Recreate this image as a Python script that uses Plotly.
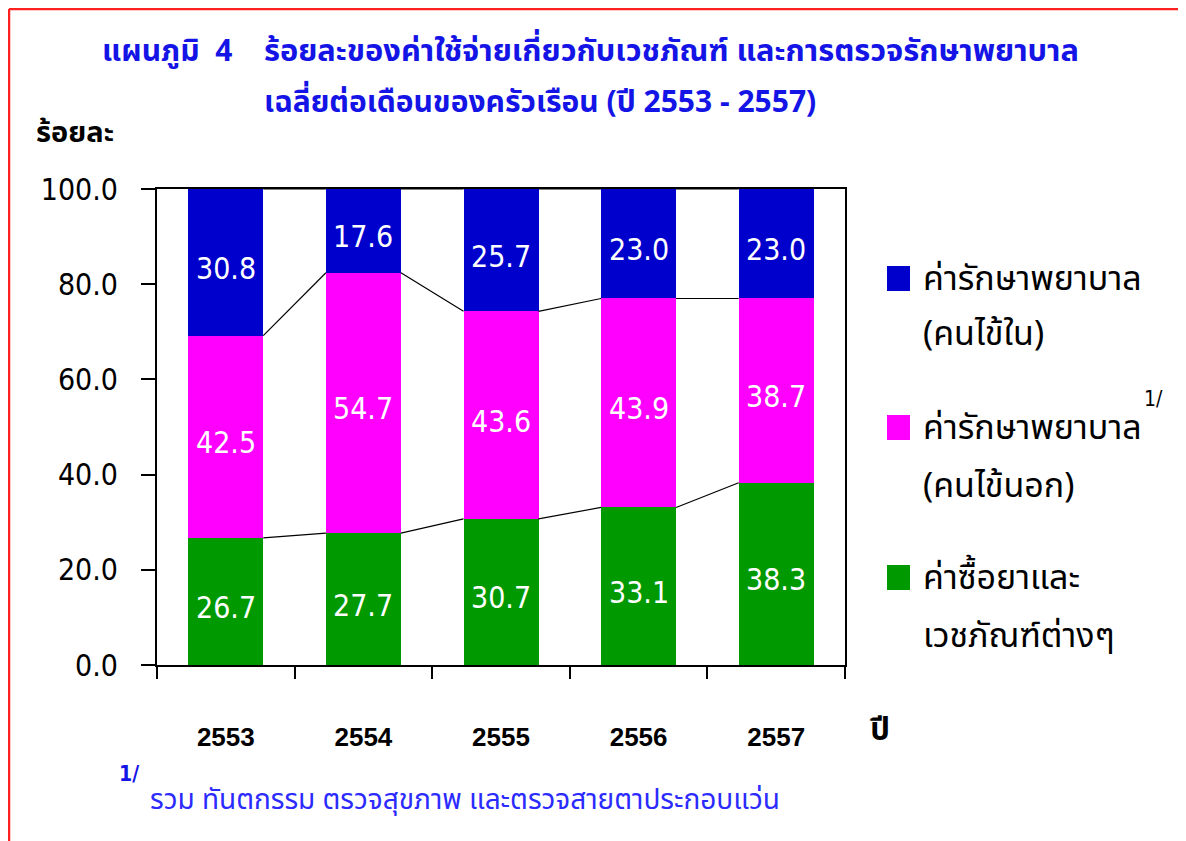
import plotly.graph_objects as go

years = ["2553", "2554", "2555", "2556", "2557"]
medicine = [26.7, 27.7, 30.7, 33.1, 38.3]      # ค่าซื้อยาและเวชภัณฑ์ต่างๆ
outpatient = [42.5, 54.7, 43.6, 43.9, 38.7]    # ค่ารักษาพยาบาล (คนไข้นอก)
inpatient = [30.8, 17.6, 25.7, 23.0, 23.0]     # ค่ารักษาพยาบาล (คนไข้ใน)
series_names = ["ค่าซื้อยาและเวชภัณฑ์ต่างๆ", "ค่ารักษาพยาบาล (คนไข้นอก)", "ค่ารักษาพยาบาล (คนไข้ใน)"]
colors = ["#009900", "#FF00FF", "#0000CC"]

# window geometry (page body has an 8px margin)
OFF = 8
WIN_W, WIN_H = 1186, 841
L, R, T, B = 157, 845, 189, 665
BARW = 0.545

NUM = "DejaVu Sans Condensed, DejaVu Sans, sans-serif"
THAI = "Tahoma, Noto Sans Thai, Noto Sans, sans-serif"

def px(x):
    return (x - L) / (R - L)

def py(y):
    return (B - y) / (B - T)

fig = go.Figure()
series = [medicine, outpatient, inpatient]
ann = []
base = [0.0] * len(years)
for vals, name, col in zip(series, series_names, colors):
    fig.add_trace(go.Bar(
        x=years, y=vals, name=name, marker_color=col,
        marker_line_width=0, width=BARW, showlegend=False,
    ))
    for i, v in enumerate(vals):
        ann.append(dict(x=i, y=base[i] + v / 2, xref="x2", yref="y",
                        text=f"{v:.1f}", showarrow=False, yshift=-6,
                        font=dict(color="white", size=30, family=NUM)))
    base = [b + v for b, v in zip(base, vals)]

# connector lines between stacked segments
cum = [0.0] * len(years)
for vals in series:
    cum = [c + v for c, v in zip(cum, vals)]
    xs, ys = [], []
    for i in range(len(years) - 1):
        xs += [i + BARW / 2, i + 1 - BARW / 2, None]
        ys += [cum[i], cum[i + 1], None]
    fig.add_trace(go.Scatter(x=xs, y=ys, xaxis="x2", mode="lines",
                             line=dict(color="black", width=1.2),
                             showlegend=False, hoverinfo="skip"))

fig.update_layout(
    width=WIN_W - OFF, height=WIN_H - OFF, barmode="stack", bargap=1 - BARW,
    margin=dict(l=L - OFF, r=WIN_W - R, t=T - OFF, b=WIN_H - B, autoexpand=False),
    plot_bgcolor="white", paper_bgcolor="white",
    showlegend=False,
    xaxis=dict(type="category", tickson="boundaries", ticks="outside", ticklen=12,
               tickwidth=2, tickcolor="black", showline=True, linecolor="black",
               linewidth=2, mirror=True, showgrid=False, range=[-0.5, 4.5],
               tickfont=dict(family="Liberation Sans, Arial, sans-serif", size=26, color="black", weight="bold"),
               ticklabelstandoff=48),
    xaxis2=dict(overlaying="x", range=[-0.5, 4.5], visible=False),
    yaxis=dict(range=[0, 100], tickvals=[0, 20, 40, 60, 80, 100], tickformat=".1f",
               ticks="outside", ticklen=14, tickwidth=2, tickcolor="black",
               showline=True, linecolor="black", linewidth=2, mirror=True,
               showgrid=False, zeroline=False,
               tickfont=dict(family=NUM, size=30, color="black"),
               ticklabelstandoff=17),
)

BLUE = "#1414E6"
lay_ann = []
# Title
lay_ann.append(dict(x=px(100), y=py(52), text="<b>แผนภูมิ  4</b>", xanchor="left", yanchor="middle",
                    font=dict(family=THAI, size=30, color=BLUE)))
lay_ann.append(dict(x=px(262), y=py(52), text="<b>ร้อยละของค่าใช้จ่ายเกี่ยวกับเวชภัณฑ์ และการตรวจรักษาพยาบาล</b>",
                    xanchor="left", yanchor="middle", font=dict(family=THAI, size=30.8, color=BLUE)))
lay_ann.append(dict(x=px(262), y=py(103), text="<b>เฉลี่ยต่อเดือนของครัวเรือน (ปี 2553 - 2557)</b>",
                    xanchor="left", yanchor="middle", font=dict(family=THAI, size=30, color=BLUE)))
# axis titles
lay_ann.append(dict(x=px(34), y=py(133), text="<b>ร้อยละ</b>", xanchor="left", yanchor="middle",
                    font=dict(family=THAI, size=29, color="black")))
lay_ann.append(dict(x=px(868), y=py(730), text="<b>ปี</b>", xanchor="left", yanchor="middle",
                    font=dict(family=THAI, size=31, color="black")))
# legend
leg_rows = [(279, 334, "ค่ารักษาพยาบาล", "(คนไข้ใน)", colors[2]),
            (428, 486, "ค่ารักษาพยาบาล", "(คนไข้นอก)", colors[1]),
            (578, 636, "ค่าซื้อยาและ", "เวชภัณฑ์ต่างๆ", colors[0])]
shapes = []
for y1, y2, t1, t2, col in leg_rows:
    lay_ann.append(dict(x=px(921), y=py(y1), text=t1, xanchor="left", yanchor="middle",
                        font=dict(family=THAI, size=34, color="black")))
    lay_ann.append(dict(x=px(921), y=py(y2), text=t2, xanchor="left", yanchor="middle",
                        font=dict(family=THAI, size=34, color="black")))
    shapes.append(dict(type="rect", xref="paper", yref="paper",
                       x0=px(887), x1=px(910), y0=py(y1 - 13), y1=py(y1 + 12),
                       fillcolor=col, line=dict(width=0)))
lay_ann.append(dict(x=px(1142), y=py(399), text="1/", xanchor="left", yanchor="middle",
                    font=dict(family=NUM, size=21, color="black")))
# footnote
lay_ann.append(dict(x=px(117), y=py(774), text="<b>1/</b>", xanchor="left", yanchor="middle",
                    font=dict(family=NUM, size=21, color=BLUE)))
lay_ann.append(dict(x=px(148), y=py(800), text="รวม ทันตกรรม ตรวจสุขภาพ และตรวจสายตาประกอบแว่น",
                    xanchor="left", yanchor="middle", font=dict(family=THAI, size=28, color="#2B2BFF")))
for a in lay_ann:
    a.update(xref="paper", yref="paper", showarrow=False)

# red frame
shapes.append(dict(type="line", xref="paper", yref="paper", x0=px(9), x1=px(1186),
                   y0=py(9), y1=py(9), line=dict(color="#FF2020", width=2.5)))
shapes.append(dict(type="line", xref="paper", yref="paper", x0=px(9), x1=px(9),
                   y0=py(9), y1=py(841), line=dict(color="#FF2020", width=2.5)))

fig.update_layout(annotations=ann + lay_ann, shapes=shapes)
fig.write_html("out.html")
